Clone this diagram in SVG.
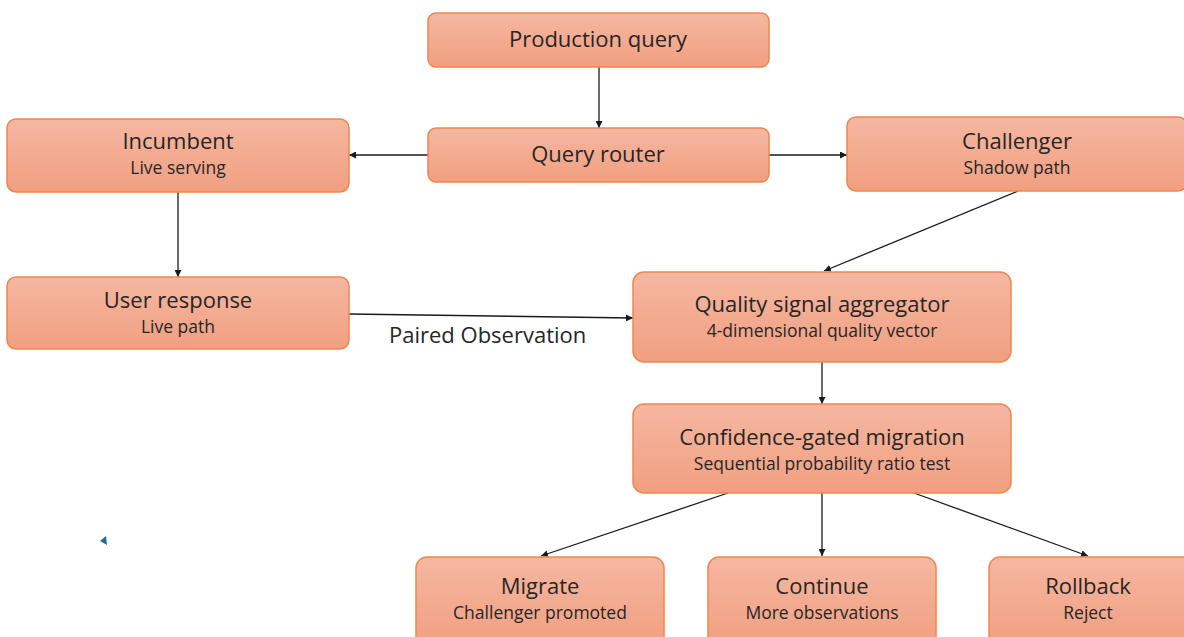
<svg xmlns="http://www.w3.org/2000/svg" width="1184" height="637" viewBox="0 0 1184 637">
<defs>
<linearGradient id="g" x1="0" y1="0" x2="0" y2="1">
<stop offset="0" stop-color="#f5b7a1"/>
<stop offset="1" stop-color="#f19f80"/>
</linearGradient>
<marker id="ah" viewBox="0 0 10 10" refX="10" refY="5" markerWidth="7" markerHeight="7" markerUnits="userSpaceOnUse" orient="auto">
<path d="M0,0 L10,5 L0,10 z" fill="#1a1a1a"/>
</marker>
<style>
.n{fill:url(#g);stroke:#ee8650;stroke-width:1.5}
.t{font-family:"Open Sans","Liberation Sans",Arial,sans-serif;font-size:22px;fill:#262626;text-anchor:middle}
.s{font-family:"Open Sans","Liberation Sans",Arial,sans-serif;font-size:17.5px;fill:#262626;text-anchor:middle}
.c{stroke:#1a1a1a;stroke-width:1.3;fill:none;marker-end:url(#ah)}
.l{font-family:"Open Sans","Liberation Sans",Arial,sans-serif;font-size:22px;fill:#262626}
</style>
</defs>
<rect width="1184" height="637" fill="#ffffff"/>
<g id="connectors">
<line class="c" x1="599" y1="67" x2="599" y2="128"/>
<line class="c" x1="428" y1="155" x2="349" y2="155"/>
<line class="c" x1="769" y1="155" x2="847" y2="155"/>
<line class="c" x1="178" y1="192" x2="178" y2="277"/>
<line class="c" x1="1018" y1="191" x2="824" y2="271"/>
<line class="c" x1="349" y1="314" x2="633" y2="318"/>
<line class="c" x1="822" y1="362" x2="822" y2="404"/>
<line class="c" x1="728" y1="493" x2="541" y2="556"/>
<line class="c" x1="822" y1="493" x2="822" y2="556"/>
<line class="c" x1="914" y1="493" x2="1088" y2="556"/>
<text class="l" x="389" y="343">Paired Observation</text>
</g>
<g id="production-query">
<rect class="n" x="428" y="13" width="341" height="54" rx="8"/>
<text class="t" x="598" y="47">Production query</text>
</g>
<g id="query-router">
<rect class="n" x="428" y="128" width="341" height="54" rx="8"/>
<text class="t" x="598" y="162">Query router</text>
</g>
<g id="incumbent">
<rect class="n" x="7" y="119" width="342" height="73" rx="9"/>
<text class="t" x="178" y="149">Incumbent</text>
<text class="s" x="178" y="174">Live serving</text>
</g>
<g id="challenger">
<rect class="n" x="847" y="117" width="340" height="74" rx="9"/>
<text class="t" x="1017" y="149">Challenger</text>
<text class="s" x="1017" y="174">Shadow path</text>
</g>
<g id="user-response">
<rect class="n" x="7" y="277" width="342" height="72" rx="9"/>
<text class="t" x="178" y="308">User response</text>
<text class="s" x="178" y="333">Live path</text>
</g>
<g id="quality-signal-aggregator">
<rect class="n" x="633" y="272" width="378" height="90" rx="11"/>
<text class="t" x="822" y="312">Quality signal aggregator</text>
<text class="s" x="822" y="337">4-dimensional quality vector</text>
</g>
<g id="confidence-gated-migration">
<rect class="n" x="633" y="404" width="378" height="89" rx="11"/>
<text class="t" x="822" y="445">Confidence-gated migration</text>
<text class="s" x="822" y="470">Sequential probability ratio test</text>
</g>
<g id="migrate">
<rect class="n" x="416" y="557" width="248" height="90" rx="11"/>
<text class="t" x="540" y="594">Migrate</text>
<text class="s" x="540" y="619">Challenger promoted</text>
</g>
<g id="continue">
<rect class="n" x="708" y="557" width="228" height="90" rx="11"/>
<text class="t" x="822" y="594">Continue</text>
<text class="s" x="822" y="619">More observations</text>
</g>
<g id="rollback">
<rect class="n" x="989" y="557" width="210" height="90" rx="11"/>
<text class="t" x="1088" y="594">Rollback</text>
<text class="s" x="1088" y="619">Reject</text>
</g>
<polygon points="100,541 106,536 107,545" fill="#1f6f9c"/>
</svg>
